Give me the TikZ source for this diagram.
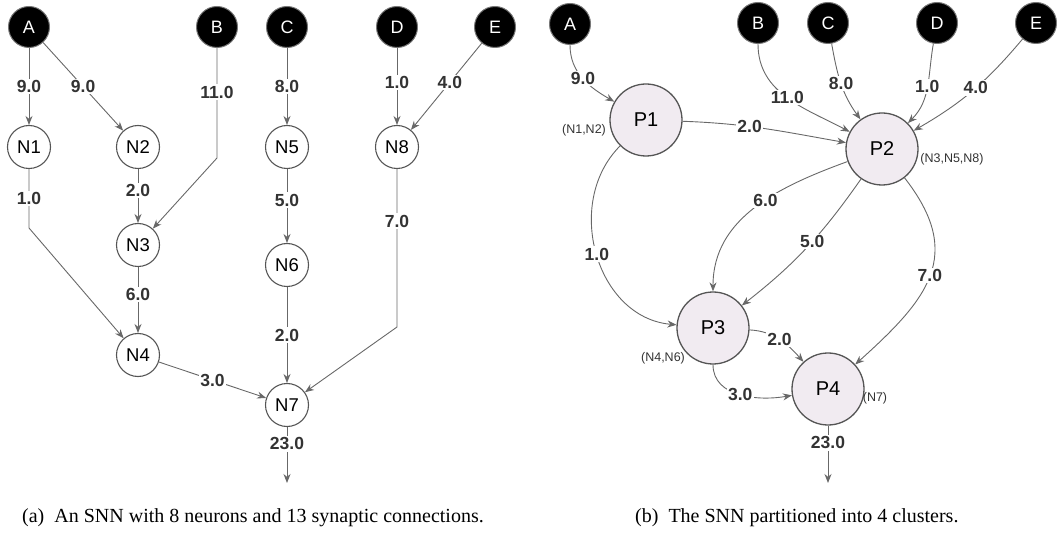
\documentclass[tikz,border=0pt]{standalone}
\usepackage{fontspec}
\setmainfont{Liberation Serif}
\newfontfamily\diafont{Liberation Sans}
\usetikzlibrary{arrows.meta}
\definecolor{edgegray}{HTML}{686868}
\definecolor{ringgray}{HTML}{555555}
\definecolor{wtgray}{HTML}{333333}
\definecolor{partfill}{HTML}{F1EBF1}

\begin{document}
\begin{tikzpicture}[x=1pt,y=1pt,
    inp/.style={circle,fill=black,draw=ringgray!80,line width=1pt,minimum size=41pt,inner sep=0pt,text=white,font=\diafont\fontsize{18}{18}\selectfont},
    neu/.style={circle,fill=white,draw=ringgray,line width=1.1pt,minimum size=43pt,inner sep=0pt,font=\diafont\fontsize{18.5}{18.5}\selectfont},
    part/.style={circle,fill=partfill,draw=ringgray,line width=1.3pt,minimum size=72pt,inner sep=0pt,font=\diafont\fontsize{20}{20}\selectfont},
    wt/.style={fill=white,inner sep=1.5pt,text=wtgray,font=\diafont\bfseries\fontsize{17.5}{17.5}\selectfont},
    grp/.style={text=wtgray,inner sep=0pt,font=\diafont\fontsize{12.5}{12.5}\selectfont},
    syn/.style={draw=edgegray,line width=0.9pt,-{Stealth[length=9pt,width=7pt]}},
    captext/.style={anchor=base west,inner sep=0pt,font=\fontsize{20}{20}\selectfont}]
    \useasboundingbox (0,0) rectangle (1057,-534);

    % (a) the SNN
    \node[inp] (A) at (29,-27) {A};
    \node[inp] (B) at (217,-27) {B};
    \node[inp] (C) at (287,-27) {C};
    \node[inp] (D) at (397,-27) {D};
    \node[inp] (E) at (495,-27) {E};
    \node[neu] (N1) at (29,-147) {N1};
    \node[neu] (N2) at (138,-147) {N2};
    \node[neu] (N3) at (138,-245) {N3};
    \node[neu] (N4) at (138,-355) {N4};
    \node[neu] (N5) at (287,-147) {N5};
    \node[neu] (N6) at (287,-265) {N6};
    \node[neu] (N7) at (287,-405) {N7};
    \node[neu] (N8) at (397,-147) {N8};
    \coordinate (kB) at (217,-158);
    \coordinate (k1) at (29,-228);
    \coordinate (k8) at (397,-327);
    \coordinate (out7) at (287,-483);

    \draw[syn] (A) -- node[wt]{9.0} (N1);
    \draw[syn] (A) -- node[wt]{9.0} (N2);
    \draw[syn] (B) -- node[wt,pos=0.4]{11.0} (kB) -- (N3);
    \draw[syn] (C) -- node[wt]{8.0} (N5);
    \draw[syn] (D) -- node[wt,pos=0.45]{1.0} (N8);
    \draw[syn] (E) -- node[wt,pos=0.45]{4.0} (N8);
    \draw[syn] (N1) -- node[wt]{1.0} (k1) -- (N4);
    \draw[syn] (N2) -- node[wt,pos=0.4]{2.0} (N3);
    \draw[syn] (N5) -- node[wt,pos=0.42]{5.0} (N6);
    \draw[syn] (N8) -- node[wt,pos=0.33]{7.0} (k8) -- (N7);
    \draw[syn] (N3) -- node[wt,pos=0.42]{6.0} (N4);
    \draw[syn] (N6) -- node[wt]{2.0} (N7);
    \draw[syn] (N4) -- node[wt]{3.0} (N7);
    \draw[syn] (N7) -- node[wt,pos=0.3]{23.0} (out7);

    % (b) the clusters
    \node[inp] (rA) at (570,-24) {A};
    \node[inp] (rB) at (758,-23) {B};
    \node[inp] (rC) at (828,-23) {C};
    \node[inp] (rD) at (937,-23) {D};
    \node[inp] (rE) at (1036,-23) {E};
    \node[part] (P1) at (646,-120) {P1};
    \node[part] (P2) at (882,-149) {P2};
    \node[part] (P3) at (713,-328) {P3};
    \node[part] (P4) at (828,-389) {P4};
    \node[grp] (g1) at (584,-130) {(N1,N2)};
    \node[grp] (g2) at (952,-159) {(N3,N5,N8)};
    \node[grp] (g3) at (663,-358) {(N4,N6)};
    \node[grp] (g4) at (875,-398) {(N7)};
    \coordinate (out4) at (828,-483);

    \draw[syn] (rA) to[out=-90,in=150] node[wt]{9.0} (P1);
    \draw[syn] (rB) to[out=-90,in=152] node[wt]{11.0} (P2);
    \draw[syn] (rC) to[out=-80,in=126] node[wt]{8.0} (P2);
    \draw[syn] (rD) to[out=-100,in=45] node[wt]{1.0} (P2);
    \draw[syn] (rE) to[out=-130,in=30] node[wt,pos=0.47]{4.0} (P2);
    \draw[syn] (P1) to[out=-2,in=170] node[wt,pos=0.4]{2.0} (P2);
    \draw[syn] (P2) to[out=200,in=90] node[wt,pos=0.43]{6.0} (P3);
    \draw[syn] (P2) to[out=-125,in=38] node[wt,pos=0.45]{5.0} (P3);
    \draw[syn] (P1) to[out=-135,in=175,looseness=1.1] node[wt]{1.0} (P3);
    \draw[syn] (P2) to[out=-52,in=42,looseness=1.3] node[wt]{7.0} (P4);
    \draw[syn] (P3) to[out=-3,in=132] node[wt]{2.0} (P4);
    \draw[syn] (P3) to[out=-90,in=190] node[wt]{3.0} (P4);
    \draw[syn] (P4) -- node[wt,pos=0.3]{23.0} (out4);

    \node[captext] (capa) at (22,-522) {(a)\ \ An SNN with 8 neurons and 13 synaptic connections.};
    \node[captext] (capb) at (635,-522) {(b)\ \ The SNN partitioned into 4 clusters.};
\end{tikzpicture}
\end{document}
